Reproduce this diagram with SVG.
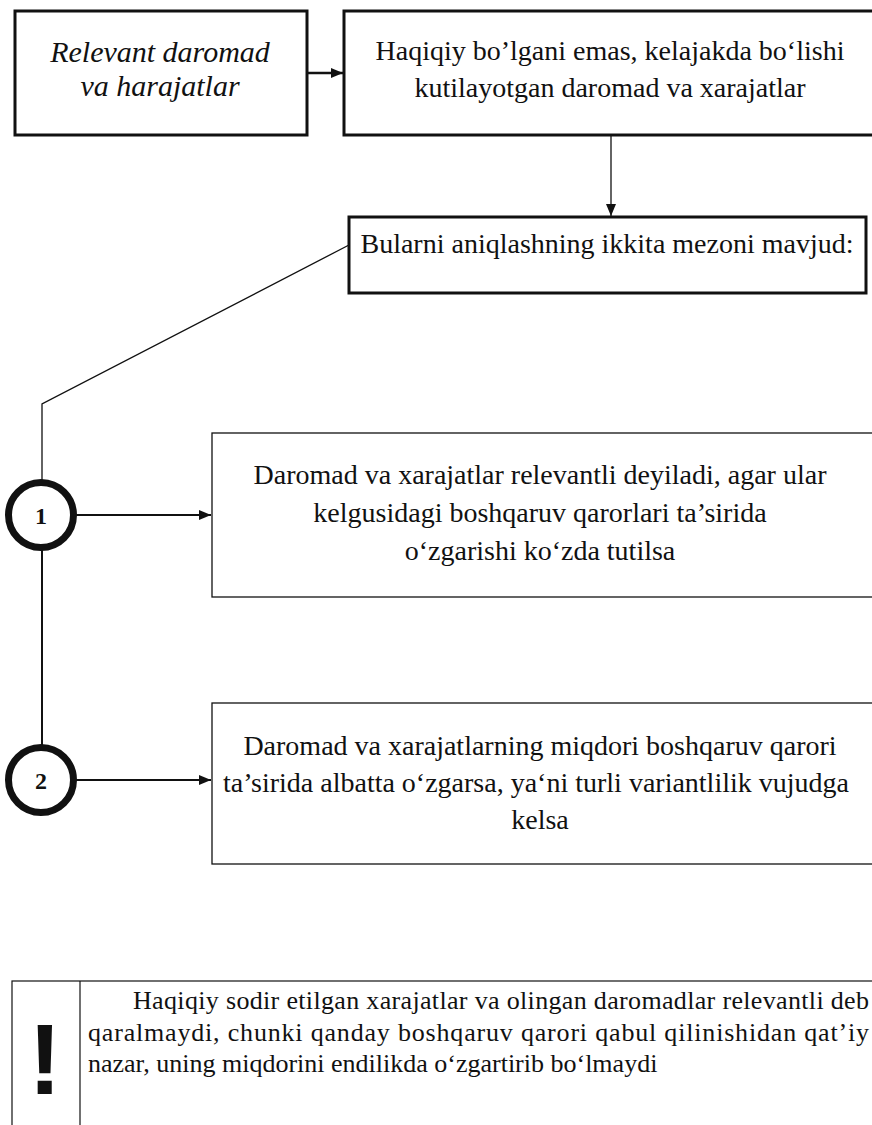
<svg xmlns="http://www.w3.org/2000/svg" width="872" height="1125" viewBox="0 0 872 1125">
<style>
.t{font-family:"Liberation Serif","Times New Roman",serif;fill:#111;}
.m{font-size:28px;text-anchor:middle;}
.box{fill:#fff;stroke:#111;}
.thick{stroke-width:3;}
.thin{stroke-width:1.3;}
.c{stroke:#111;fill:none;}
.circ{fill:#fff;stroke:#111;stroke-width:7;}
.num{font-size:24px;font-weight:bold;text-anchor:middle;}
.note{font-size:26px;}
</style>
<defs>
<marker id="ah" viewBox="0 0 12 10" refX="12" refY="5" markerWidth="12" markerHeight="10" markerUnits="userSpaceOnUse" orient="auto">
<path d="M0,0 L12,5 L0,10 z" fill="#111"/>
</marker>
</defs>
<rect width="872" height="1125" fill="#fff"/>
<g id="connectors">
<line class="c" x1="307" y1="73" x2="343" y2="73" stroke-width="2.5" marker-end="url(#ah)"/>
<line class="c" x1="611" y1="135" x2="611" y2="216" stroke-width="1.3" marker-end="url(#ah)"/>
<polyline class="c" points="349,245 42,404 42,481" stroke-width="1.3"/>
<line class="c" x1="42" y1="549" x2="42" y2="746" stroke-width="2"/>
<line class="c" x1="76" y1="515" x2="211" y2="515" stroke-width="1.8" marker-end="url(#ah)"/>
<line class="c" x1="76" y1="780" x2="211" y2="780" stroke-width="1.8" marker-end="url(#ah)"/>
</g>
<g id="n1">
<rect class="box thick" x="15" y="11" width="292" height="124"/>
<text class="t" font-style="italic" font-size="30" text-anchor="middle" x="160" y="62">Relevant daromad</text>
<text class="t" font-style="italic" font-size="30" text-anchor="middle" x="160" y="96">va harajatlar</text>
</g>
<g id="n2">
<rect class="box thick" x="344" y="11" width="540" height="124"/>
<text class="t m" x="610" y="60">Haqiqiy bo’lgani emas, kelajakda bo‘lishi</text>
<text class="t m" x="610" y="97">kutilayotgan daromad va xarajatlar</text>
</g>
<g id="n3">
<rect class="box thick" x="349" y="217" width="517" height="76"/>
<text class="t m" x="607" y="253">Bularni aniqlashning ikkita mezoni mavjud:</text>
</g>
<g id="c1">
<circle class="circ" cx="41" cy="515" r="32.5"/>
<text class="t num" x="41" y="524">1</text>
</g>
<g id="c2">
<circle class="circ" cx="41" cy="780" r="32.5"/>
<text class="t num" x="41" y="789">2</text>
</g>
<g id="n4">
<rect class="box thin" x="212" y="433" width="680" height="164"/>
<text class="t m" x="540" y="484">Daromad va xarajatlar relevantli deyiladi, agar ular</text>
<text class="t m" x="540" y="522">kelgusidagi boshqaruv qarorlari ta’sirida</text>
<text class="t m" x="540" y="560">o‘zgarishi ko‘zda tutilsa</text>
</g>
<g id="n5">
<rect class="box thin" x="212" y="703" width="680" height="161"/>
<text class="t m" x="540" y="755">Daromad va xarajatlarning miqdori boshqaruv qarori</text>
<text class="t m" x="536" y="792">ta’sirida albatta o‘zgarsa, ya‘ni turli variantlilik vujudga</text>
<text class="t m" x="540" y="829">kelsa</text>
</g>
<g id="note">
<rect class="box" x="12" y="981" width="900" height="200" stroke-width="1.2"/>
<line x1="80" y1="981" x2="80" y2="1125" stroke="#111" stroke-width="1.2"/>
<text font-family="'Liberation Sans',Arial,sans-serif" font-weight="bold" font-size="100" text-anchor="middle" x="45" y="1094" fill="#111">!</text>
<text class="t note" x="133" y="1009" textLength="736" lengthAdjust="spacing">Haqiqiy sodir etilgan xarajatlar va olingan daromadlar relevantli deb</text>
<text class="t note" x="88" y="1041" textLength="781" lengthAdjust="spacing">qaralmaydi, chunki qanday boshqaruv qarori qabul qilinishidan qat’iy</text>
<text class="t note" x="88" y="1072">nazar, uning miqdorini endilikda o‘zgartirib bo‘lmaydi</text>
</g>
</svg>
